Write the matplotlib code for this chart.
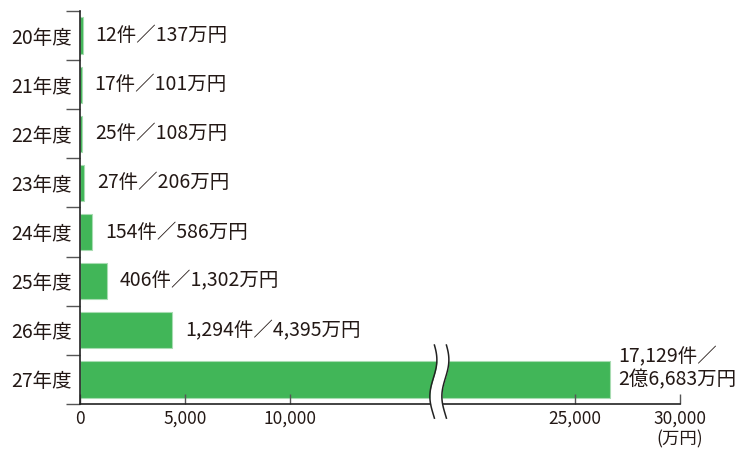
"""
Horizontal bar chart of cases / amounts per fiscal year (20-27年度)
with a broken x axis between 10,000 and 25,000 (万円).
"""

import numpy as np
import matplotlib
matplotlib.use("Agg")
import matplotlib.pyplot as plt

plt.rcParams["font.family"] = ["Noto Sans CJK JP", "DejaVu Sans"]

years = ["20年度", "21年度", "22年度", "23年度", "24年度", "25年度", "26年度", "27年度"]
cases = [12, 17, 25, 27, 154, 406, 1294, 17129]
amounts = [137, 101, 108, 206, 586, 1302, 4395, 26683]  # 万円
labels = ["12件／137万円", "17件／101万円", "25件／108万円", "27件／206万円",
          "154件／586万円", "406件／1,302万円", "1,294件／4,395万円",
          "17,129件／\n2億6,683万円"]
xticks = [0, 5000, 10000, 25000, 30000]
xtick_labels = ["0", "5,000", "10,000", "25,000", "30,000"]

# the part of the axis that is cut out
BREAK_A = 17100
BREAK_B = 18550

BAR = "#41b658"
EDGE = "#a8dcb2"
TEXT = "#231815"


def forward(x):
    x = np.asarray(x, dtype=float)
    gap = BREAK_B - BREAK_A
    return np.where(x <= BREAK_A, x, np.where(x >= BREAK_B, x - gap, BREAK_A))


def inverse(y):
    y = np.asarray(y, dtype=float)
    return np.where(y <= BREAK_A, y, y + (BREAK_B - BREAK_A))


def main():
    fig = plt.figure(figsize=(7.45, 4.55), dpi=100)
    ax = fig.add_axes([80 / 745, 1 - 404 / 455, 600 / 745, 393 / 455])

    ypos = np.arange(len(years))
    ax.barh(ypos, amounts, height=0.74, color=BAR, edgecolor=EDGE, linewidth=0.8)

    ax.set_xscale("function", functions=(forward, inverse))
    ax.set_xlim(0, 30000)
    ax.set_ylim(len(years) - 0.5, -0.5)

    ax.set_xticks(xticks)
    ax.set_xticklabels(xtick_labels, fontsize=12.5, color=TEXT)
    ax.tick_params(axis="x", direction="in", length=7, width=1, color="#555", pad=4)

    ax.set_yticks(ypos)
    ax.set_yticklabels(years, fontsize=14, color=TEXT)
    ax.tick_params(axis="y", which="major", length=0, pad=6)
    ax.set_yticks(np.arange(len(years) + 1) - 0.5, minor=True)
    ax.tick_params(axis="y", which="minor", length=10, width=1, color="#555")

    for side in ["top", "right"]:
        ax.spines[side].set_visible(False)
    ax.spines["left"].set_color("#222")
    ax.spines["bottom"].set_color("#222")
    ax.spines["left"].set_linewidth(1.2)
    ax.spines["bottom"].set_linewidth(1.2)

    for i, (val, lab) in enumerate(zip(amounts, labels)):
        if i == len(years) - 1:
            ax.annotate(lab, (val, i), xytext=(6, 8), textcoords="offset points",
                        ha="left", va="center", fontsize=14, color=TEXT,
                        linespacing=1.15)
        else:
            ax.annotate(lab, (val, i), xytext=(9, 0), textcoords="offset points",
                        ha="left", va="center", fontsize=14, color=TEXT)

    ax.text(1, -0.066, "(万円)", transform=ax.transAxes, ha="center", va="top",
            fontsize=12.5, color=TEXT)

    # wavy break marks over the last bar and the axis
    span = forward(30000) - forward(0)
    xc = float(forward(BREAK_A) / span)
    t = np.linspace(0, 1, 80)
    yy = 0.150 + t * (-0.036 - 0.150)
    amp = 3.5 / 600
    half = 6 / 600
    wave = amp * np.sin(2 * np.pi * t + 0.3)
    xl = xc - half + wave
    xr = xc + half + wave
    ax.fill_betweenx(yy, xl, xr, color="white", transform=ax.transAxes,
                     clip_on=False, zorder=5, linewidth=0)
    ax.plot(xl, yy, color="#222", lw=1.1, transform=ax.transAxes, clip_on=False, zorder=6)
    ax.plot(xr, yy, color="#222", lw=1.1, transform=ax.transAxes, clip_on=False, zorder=6)

    fig.savefig("out.png", dpi=100)
    return True


if __name__ == "__main__":
    main()
